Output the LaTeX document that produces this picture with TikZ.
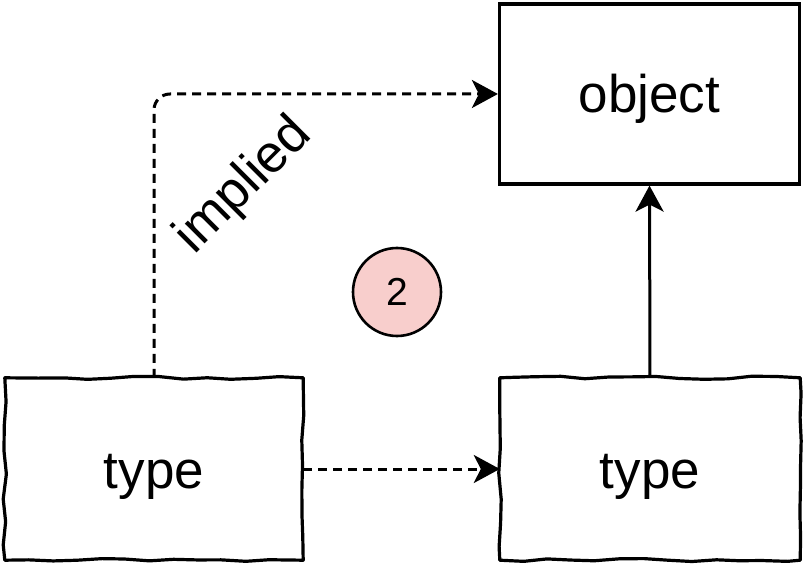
\documentclass[tikz,border=0pt]{standalone}
\usepackage{fontspec}
\setmainfont{Liberation Sans}
\usetikzlibrary{arrows.meta,decorations.pathmorphing}
\definecolor{notefill}{HTML}{F8CECC}
\tikzset{
  box/.style={minimum width=300pt, minimum height=180pt, inner sep=0pt,
    font=\fontsize{53}{60}\selectfont, text height=49pt, text depth=11pt},
  sketch/.style={line width=3.2pt, line join=round,
    decorate, decoration={random steps, segment length=24pt, amplitude=1.6pt}},
  link/.style={line width=3pt, -{Stealth[length=26pt, width=28pt, inset=7pt]}},
  implied/.style={link, dash pattern=on 9pt off 6pt}
}
\begin{document}
\begin{tikzpicture}[x=1pt, y=-1pt]
  \useasboundingbox (0,0) rectangle (804,564);
  \pgfmathsetseed{7}
  \node[box, draw, line width=3.2pt] (obj) at (649.5,94) {object};
  \node[box, minimum width=298pt, minimum height=182pt] (typeA) at (154,469) {type};
  \node[box, minimum width=300pt, minimum height=182pt] (typeB) at (650,469) {type};
  \draw[sketch] (typeA.south west) -- (typeA.south east) -- (typeA.north east)
    -- (typeA.north west) -- cycle;
  \draw[sketch] (typeB.south west) -- (typeB.south east) -- (typeB.north east)
    -- (typeB.north west) -- cycle;
  \node[circle, draw, line width=2.6pt, fill=notefill, minimum size=88pt, inner sep=0pt,
    font=\fontsize{39}{44}\selectfont] (note) at (397,292) {2};
  \coordinate (bend) at (typeA.north |- obj.west);
  \draw[implied, rounded corners=16pt] (typeA.north) -- (bend) -- (obj.west);
  \draw[implied] (typeA.east) -- (typeB.west);
  \draw[link] (typeB.north) -- (obj.south);
  \node[rotate=45, font=\fontsize{53}{60}\selectfont, inner sep=0pt] (lbl) at (244,186) {implied};
\end{tikzpicture}
\end{document}
